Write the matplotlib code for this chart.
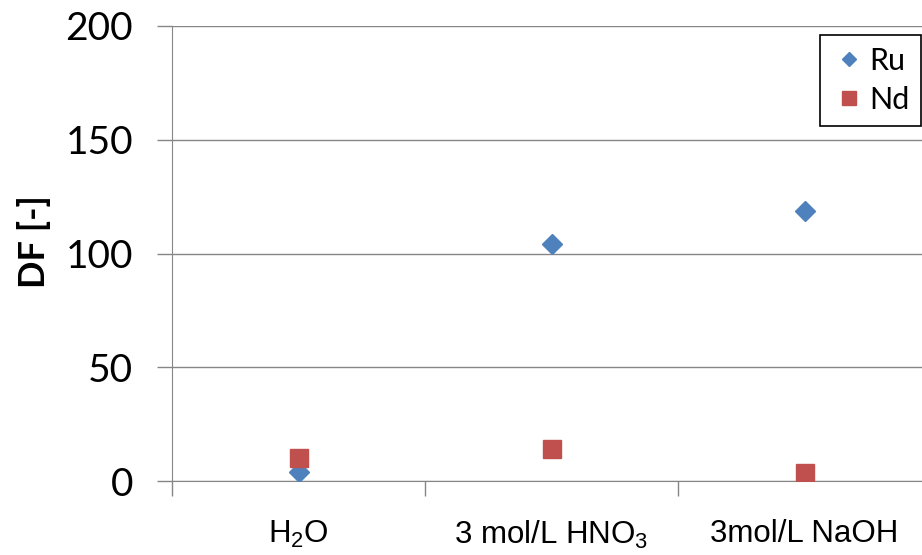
import numpy as np
import matplotlib.pyplot as plt
from matplotlib.ticker import FixedLocator, NullFormatter

plt.rcParams['mathtext.default'] = 'regular'

categories = ['H$_2$O', '3 mol/L HNO$_3$', '3mol/L NaOH']
ru = [4, 104, 118.5]
nd = [10, 14, 3.5]

fig = plt.figure(figsize=(9.22, 5.55), dpi=100)
ax = fig.add_axes([172/922, 74/555, 759/922, 455/555])

x = np.arange(1, len(categories) + 1)
ax.plot(x, ru, 'D', color='#4F81BD', markersize=10, label='Ru', zorder=3)
ax.plot(x, nd, 's', color='#C0504D', markersize=13.5, label='Nd', zorder=4)

ax.set_xlim(0.5, 3.5)
ax.set_ylim(0, 200)
ax.set_yticks([0, 50, 100, 150, 200])
ax.yaxis.grid(True, color='#868686', linewidth=1)
ax.set_axisbelow(True)

# boundaries get tick marks, centres get the labels
ax.xaxis.set_major_locator(FixedLocator([0.5, 1.5, 2.5, 3.5]))
ax.xaxis.set_major_formatter(NullFormatter())
ax.xaxis.set_minor_locator(FixedLocator(x))
ax.set_xticklabels(categories, minor=True, fontsize=22.5, family='Liberation Sans')
ax.tick_params(axis='x', which='minor', length=0, pad=27)
ax.tick_params(axis='x', which='major', length=11, color='#868686', width=1)
ax.tick_params(axis='y', length=11, color='#868686', width=1, pad=17, labelsize=28)
for lab in ax.get_yticklabels():
    lab.set_family('Lato')

for s in ['top', 'right']:
    ax.spines[s].set_visible(False)
ax.spines['left'].set_color('#868686')
ax.spines['bottom'].set_color('#868686')

ax.set_ylabel('DF [-]', fontsize=26, fontweight='bold', family='Lato')
ax.yaxis.set_label_coords(-0.16, 0.527)

leg = ax.legend(loc='upper left', bbox_to_anchor=(820/922, 1 - 35/555),
                bbox_transform=fig.transFigure, borderaxespad=0,
                prop={'family': 'Lato', 'size': 22}, fancybox=False,
                edgecolor='black', framealpha=1, labelspacing=0.36,
                handletextpad=0.1, handlelength=1.11, borderpad=0.39,
                markerscale=0.75)
leg.get_frame().set_linewidth(1.2)

fig.savefig('out.png', dpi=100)
